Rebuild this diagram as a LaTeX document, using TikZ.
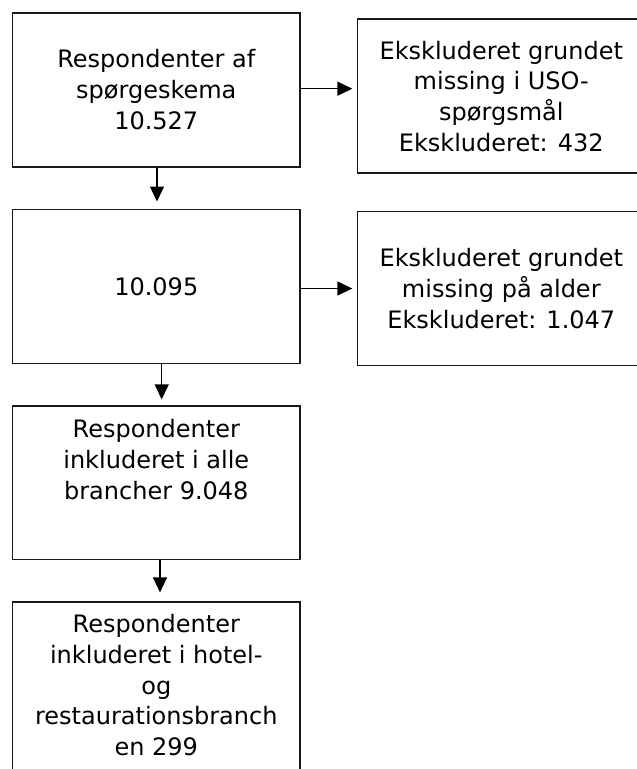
\documentclass[tikz,border=0pt]{standalone}
\usepackage{fontspec}
\setmainfont{DejaVu Sans}
\usetikzlibrary{arrows.meta,positioning}
\newcommand{\tfont}{\fontsize{24}{30.7}\selectfont}
\tikzset{
  box/.style={draw=black!90, line width=1.6pt, minimum width=287.3pt, minimum height=154pt,
    inner sep=0pt, align=center, font=\tfont, text=black},
  toptext/.style={font=\tfont, align=center, anchor=north, inner sep=0pt, text=black},
  arr/.style={line width=1.3pt, -{Triangle[length=15pt,width=14pt]}},
}
\begin{document}
\begin{tikzpicture}[x=1pt,y=-1pt]
\useasboundingbox (0,0) rectangle (637,769);
\clip (0,0) rectangle (637,769);
\node[box] (b1) at (156.3,89.7) {Respondenter af\\spørgeskema\\10.527};
\node[box] (b2) at (501.3,96.2) {Ekskluderet grundet\\missing i USO-\\spørgsmål\\Ekskluderet: 432};
\node[box] (b3) at (156.3,286.3) {10.095};
\node[box] (b4) at (501.3,288.5) {Ekskluderet grundet\\missing på alder\\Ekskluderet: 1.047};
\node[box, minimum height=153.6pt,
  label={[toptext, yshift=-14.5pt]north:Respondenter\\inkluderet i alle\\brancher 9.048}] (b5) at (156.3,482.5) {};
\node[box, minimum height=200pt,
  label={[toptext, yshift=-13.5pt]north:Respondenter\\inkluderet i hotel-\\og\\restaurationsbranch\\en 299}] (b6) at (156.3,701.7) {};
\draw[arr, shorten >=7pt] ([xshift=0.7pt]b1.south) -- ([xshift=0.7pt]b3.north);
\draw[arr, shorten >=4.5pt] ([yshift=1pt]b1.east) -- ([yshift=1pt]b1.east -| b2.west);
\draw[arr, shorten >=5.5pt] ([xshift=5.4pt]b3.south) -- ([xshift=5.4pt]b5.north);
\draw[arr, shorten >=4.5pt] (b4.west -| b3.east) -- (b4.west);
\draw[arr, shorten >=8.5pt] ([xshift=3.7pt]b5.south) -- ([xshift=3.7pt]b6.north);
\end{tikzpicture}
\end{document}
